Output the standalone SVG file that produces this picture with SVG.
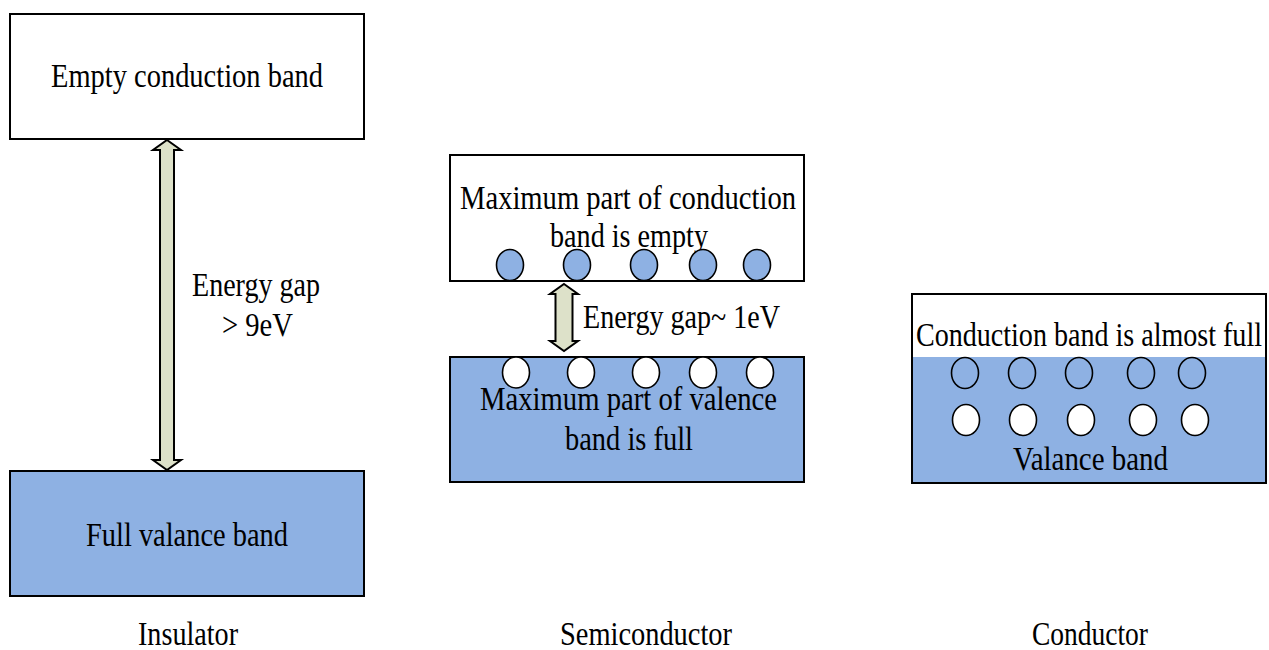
<svg xmlns="http://www.w3.org/2000/svg" width="1269" height="650" viewBox="0 0 1269 650">
<style>
.box{stroke:#000;stroke-width:2}
.w{fill:#fff}
.b{fill:#8EB1E3}
.t{font-family:"Liberation Serif","Times New Roman",serif;font-size:33px;fill:#000}
.arr{fill:#DDE1C9;stroke:#000;stroke-width:2;stroke-linejoin:miter}
.e{stroke:#000;stroke-width:1.6}
</style>
<rect width="1269" height="650" fill="#fff"/>
<g id="insulator">
<g id="ins-cond"><rect class="box w" x="10" y="14" width="354" height="125"/>
<text class="t" x="51" y="87" textLength="272" lengthAdjust="spacingAndGlyphs">Empty conduction band</text></g>
<g id="ins-val"><rect class="box b" x="10" y="471" width="354" height="125"/>
<text class="t" x="86" y="546" textLength="202" lengthAdjust="spacingAndGlyphs">Full valance band</text></g>
<g id="ins-gap"><text class="t" x="192" y="296" textLength="128" lengthAdjust="spacingAndGlyphs">Energy gap</text>
<text class="t" x="222" y="336" textLength="71" lengthAdjust="spacingAndGlyphs">&gt; 9eV</text></g>
<text class="t" x="138" y="645" textLength="100" lengthAdjust="spacingAndGlyphs">Insulator</text>
</g>
<g id="semiconductor">
<g id="sc-cond"><rect class="box w" x="450" y="155" width="354" height="126"/>
<text class="t" x="460" y="209" textLength="336" lengthAdjust="spacingAndGlyphs">Maximum part of conduction</text>
<text class="t" x="550" y="247" textLength="158" lengthAdjust="spacingAndGlyphs">band is empty</text>
<g class="b e"><ellipse cx="510" cy="265" rx="13.5" ry="15.5"/><ellipse cx="577" cy="265" rx="13.5" ry="15.5"/><ellipse cx="644" cy="265" rx="13.5" ry="15.5"/><ellipse cx="703" cy="265" rx="13.5" ry="15.5"/><ellipse cx="757" cy="265" rx="13.5" ry="15.5"/></g></g>
<g id="sc-val"><rect class="box b" x="450" y="357" width="354" height="125"/>
<g class="w e"><ellipse cx="516" cy="372.5" rx="13.5" ry="15.5"/><ellipse cx="581" cy="372.5" rx="13.5" ry="15.5"/><ellipse cx="646" cy="372.5" rx="13.5" ry="15.5"/><ellipse cx="703" cy="372.5" rx="13.5" ry="15.5"/><ellipse cx="760" cy="372.5" rx="13.5" ry="15.5"/></g>
<text class="t" x="480" y="410" textLength="297" lengthAdjust="spacingAndGlyphs">Maximum part of valence</text>
<text class="t" x="565" y="450" textLength="128" lengthAdjust="spacingAndGlyphs">band is full</text></g>
<text class="t" x="583" y="328" textLength="197" lengthAdjust="spacingAndGlyphs">Energy gap~ 1eV</text>
<text class="t" x="560" y="645" textLength="172" lengthAdjust="spacingAndGlyphs">Semiconductor</text>
</g>
<g id="conductor">
<rect class="b" x="912" y="357" width="354" height="126"/>
<rect x="912" y="294" width="354" height="189" fill="none" stroke="#000" stroke-width="2"/>
<text class="t" x="916" y="346" textLength="346" lengthAdjust="spacingAndGlyphs">Conduction band is almost full</text>
<g class="b e"><ellipse cx="965" cy="373" rx="13.5" ry="15.5"/><ellipse cx="1022" cy="373" rx="13.5" ry="15.5"/><ellipse cx="1079" cy="373" rx="13.5" ry="15.5"/><ellipse cx="1141" cy="373" rx="13.5" ry="15.5"/><ellipse cx="1192" cy="373" rx="13.5" ry="15.5"/></g>
<g class="w e"><ellipse cx="966" cy="420" rx="13.5" ry="15.5"/><ellipse cx="1023" cy="420" rx="13.5" ry="15.5"/><ellipse cx="1081" cy="420" rx="13.5" ry="15.5"/><ellipse cx="1143" cy="420" rx="13.5" ry="15.5"/><ellipse cx="1195" cy="420" rx="13.5" ry="15.5"/></g>
<text class="t" x="1013" y="470" textLength="155" lengthAdjust="spacingAndGlyphs">Valance band</text>
<text class="t" x="1032" y="645" textLength="116" lengthAdjust="spacingAndGlyphs">Conductor</text>
</g>
<g id="connectors">
<path class="arr" d="M167,140 L181,150 L174,150 L174,460 L181,460 L167,470 L153,460 L160,460 L160,150 L153,150 Z"/>
<path class="arr" d="M564,284 L578,294 L572.5,294 L572.5,341 L578,341 L564,351 L550,341 L555.5,341 L555.5,294 L550,294 Z"/>
</g>
</svg>
